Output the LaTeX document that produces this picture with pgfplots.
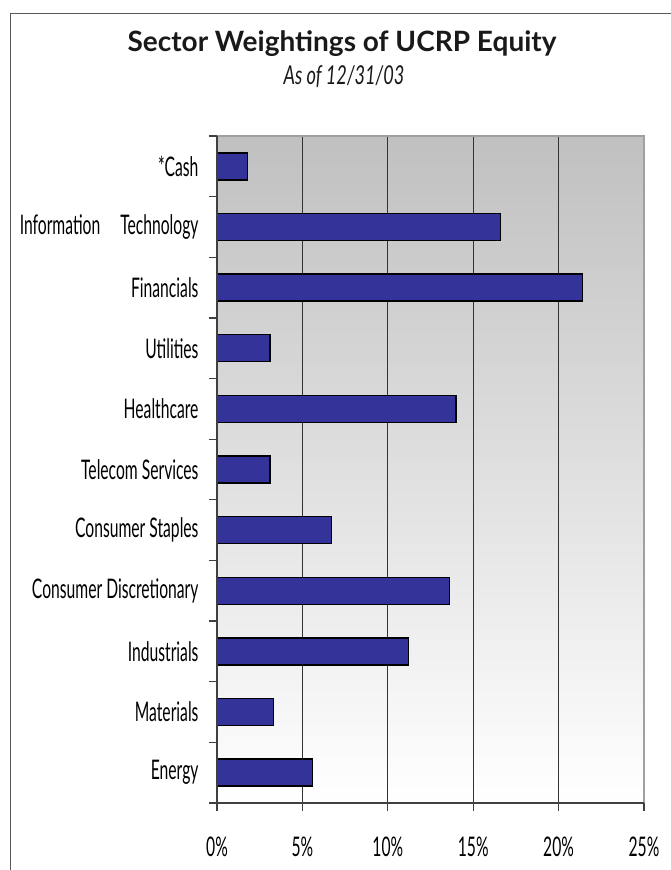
\documentclass[border=0pt]{standalone}
\usepackage{fontspec}
\setmainfont{Lato}
\usepackage{pgfplots}
\pgfplotsset{compat=1.18}
\newfontfamily\labelfont[FakeStretch=0.58]{Lato}
\newfontfamily\subfont[FakeStretch=0.70]{Lato}
\newfontfamily\titlefont{Lato}
\definecolor{barblue}{RGB}{51,51,153}
\definecolor{bgtop}{RGB}{192,192,192}
\definecolor{axisdark}{RGB}{64,64,64}
\definecolor{axislight}{RGB}{160,160,160}

\pgfplotstableread{
pos value
0 5.6
1 3.3
2 11.2
3 13.6
4 6.7
5 3.1
6 14.0
7 3.1
8 21.4
9 16.6
10 1.8
}\sectordata

\begin{document}
\begin{tikzpicture}[x=1pt,y=1pt]
\path[use as bounding box] (0,0) rectangle (671,870);
\draw[black!65, line width=1pt] (10,0) -- (10,856) -- (671,856);
\node[font=\titlefont\bfseries\fontsize{28}{32}\selectfont, anchor=base, text=black!90] at (342,818) {Sector Weightings of UCRP Equity};
\node[font=\subfont\itshape\fontsize{26}{30}\selectfont, anchor=base, text=black!90] at (344,785) {As of 12/31/03};
\begin{axis}[
  at={(217pt,67pt)}, anchor=south west,
  scale only axis, width=427pt, height=667pt,
  xmin=0, xmax=25, ymin=-0.5, ymax=10.5,
  xbar, bar width=27pt,
  axis background/.style={top color=bgtop, bottom color=white},
  axis line style={draw=none},
  xtick={0,5,10,15,20,25},
  xticklabels={0\%,5\%,10\%,15\%,20\%,25\%},
  ytick={0,...,10},
  yticklabels={Energy,Materials,Industrials,Consumer Discretionary,Consumer Staples,Telecom Services,Healthcare,Utilities,Financials,Information\hspace{20pt}Technology,*Cash},
  minor ytick={-0.5,0.5,...,10.5},
  tick pos=left,
  tick align=outside,
  major tick length=8pt,
  minor tick length=8pt,
  every major y tick/.style={draw=none},
  every minor y tick/.style={axisdark, line width=1.2pt},
  every major x tick/.style={axisdark, line width=1.2pt},
  xmajorgrids,
  grid style={black!80, line width=0.9pt},
  ticklabel style={font=\labelfont\fontsize{27}{30}\selectfont, text=black},
  xticklabel style={yshift=-22pt},
  yticklabel style={xshift=-7pt},
  clip=false,
]
\addplot[fill=barblue, draw=black, line width=1.4pt] table[x=value, y=pos] {\sectordata};
\draw[axislight, line width=1.5pt] (rel axis cs:0,1) -- (rel axis cs:1,1) -- (rel axis cs:1,0);
\draw[axisdark, line width=1.8pt] (rel axis cs:0,1) -- (rel axis cs:0,0) -- (rel axis cs:1,0);
\end{axis}
\end{tikzpicture}
\end{document}
